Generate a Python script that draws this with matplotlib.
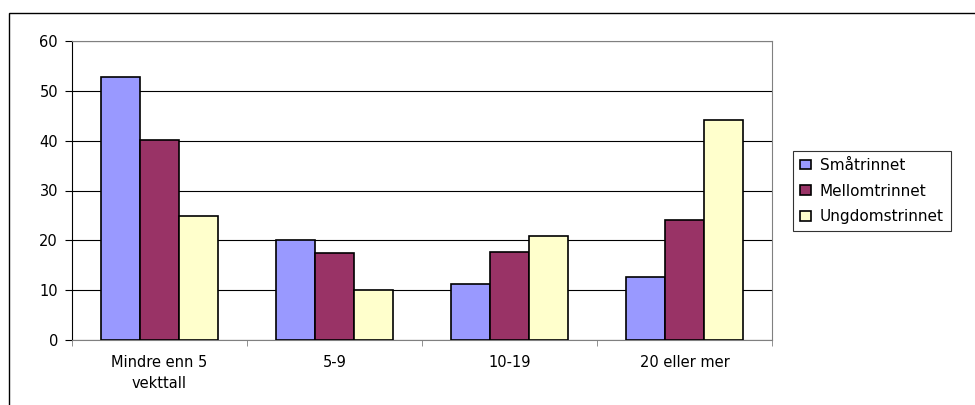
import numpy as np
import matplotlib
matplotlib.use('Agg')
import matplotlib.pyplot as plt
from matplotlib.patches import Rectangle

# Data
categories = ['Mindre enn 5\nvekttall', '5-9', '10-19', '20 eller mer']
series_names = ['Småtrinnet', 'Mellomtrinnet', 'Ungdomstrinnet']
smaatrinnet = [52.7, 20.1, 11.2, 12.7]
mellomtrinnet = [40.2, 17.4, 17.7, 24.0]
ungdomstrinnet = [24.8, 10.1, 20.9, 44.2]
yticks = [0, 10, 20, 30, 40, 50, 60]

colors = ['#9999FF', '#993366', '#FFFFCC']

plt.rcParams['font.family'] = ['DejaVu Sans']

fig = plt.figure(figsize=(9.75, 4.05), dpi=100)

# outer chart border (cut off at right and bottom like the reference)
fig.patches.append(Rectangle((9 / 975, -0.05), 1.0, 1 - 13 / 405 + 0.05,
                             transform=fig.transFigure, fill=False,
                             edgecolor='black', linewidth=1.0))

ax = fig.add_axes([72 / 975, 65 / 405, 700 / 975, 299 / 405])

x = np.arange(len(categories))
width = 1 / 4.5
all_series = [smaatrinnet, mellomtrinnet, ungdomstrinnet]
for i, (vals, name) in enumerate(zip(all_series, series_names)):
    ax.bar(x + (i - 1) * width, vals, width, color=colors[i],
           edgecolor='black', linewidth=1.2, label=name, zorder=3)

ax.set_xlim(-0.5, len(categories) - 0.5)
ax.set_ylim(0, 60)
ax.set_yticks(yticks)
ax.yaxis.grid(True, color='black', linewidth=0.8, zorder=0)

ax.set_xticks(x)
ax.set_xticklabels(categories, fontsize=10.5, linespacing=1.45)
ax.set_xticks(np.arange(len(categories) + 1) - 0.5, minor=True)
ax.tick_params(axis='x', which='major', length=0, pad=11)
ax.tick_params(axis='x', which='minor', length=4, direction='out', color='gray')
ax.tick_params(axis='y', length=5, direction='out', labelsize=10.5, pad=5)

for side in ['top', 'right']:
    ax.spines[side].set_color('gray')
ax.spines['left'].set_color('black')
ax.spines['bottom'].set_color('gray')

leg = fig.legend(loc='upper left', bbox_to_anchor=(793 / 975, 1 - 151 / 405),
                 fontsize=11, frameon=True, fancybox=False, edgecolor='black',
                 handlelength=0.7, handleheight=0.6, handletextpad=0.6,
                 labelspacing=0.7, borderpad=0.45, borderaxespad=0)
leg.get_frame().set_linewidth(0.8)

fig.savefig('out.png', dpi=100)
